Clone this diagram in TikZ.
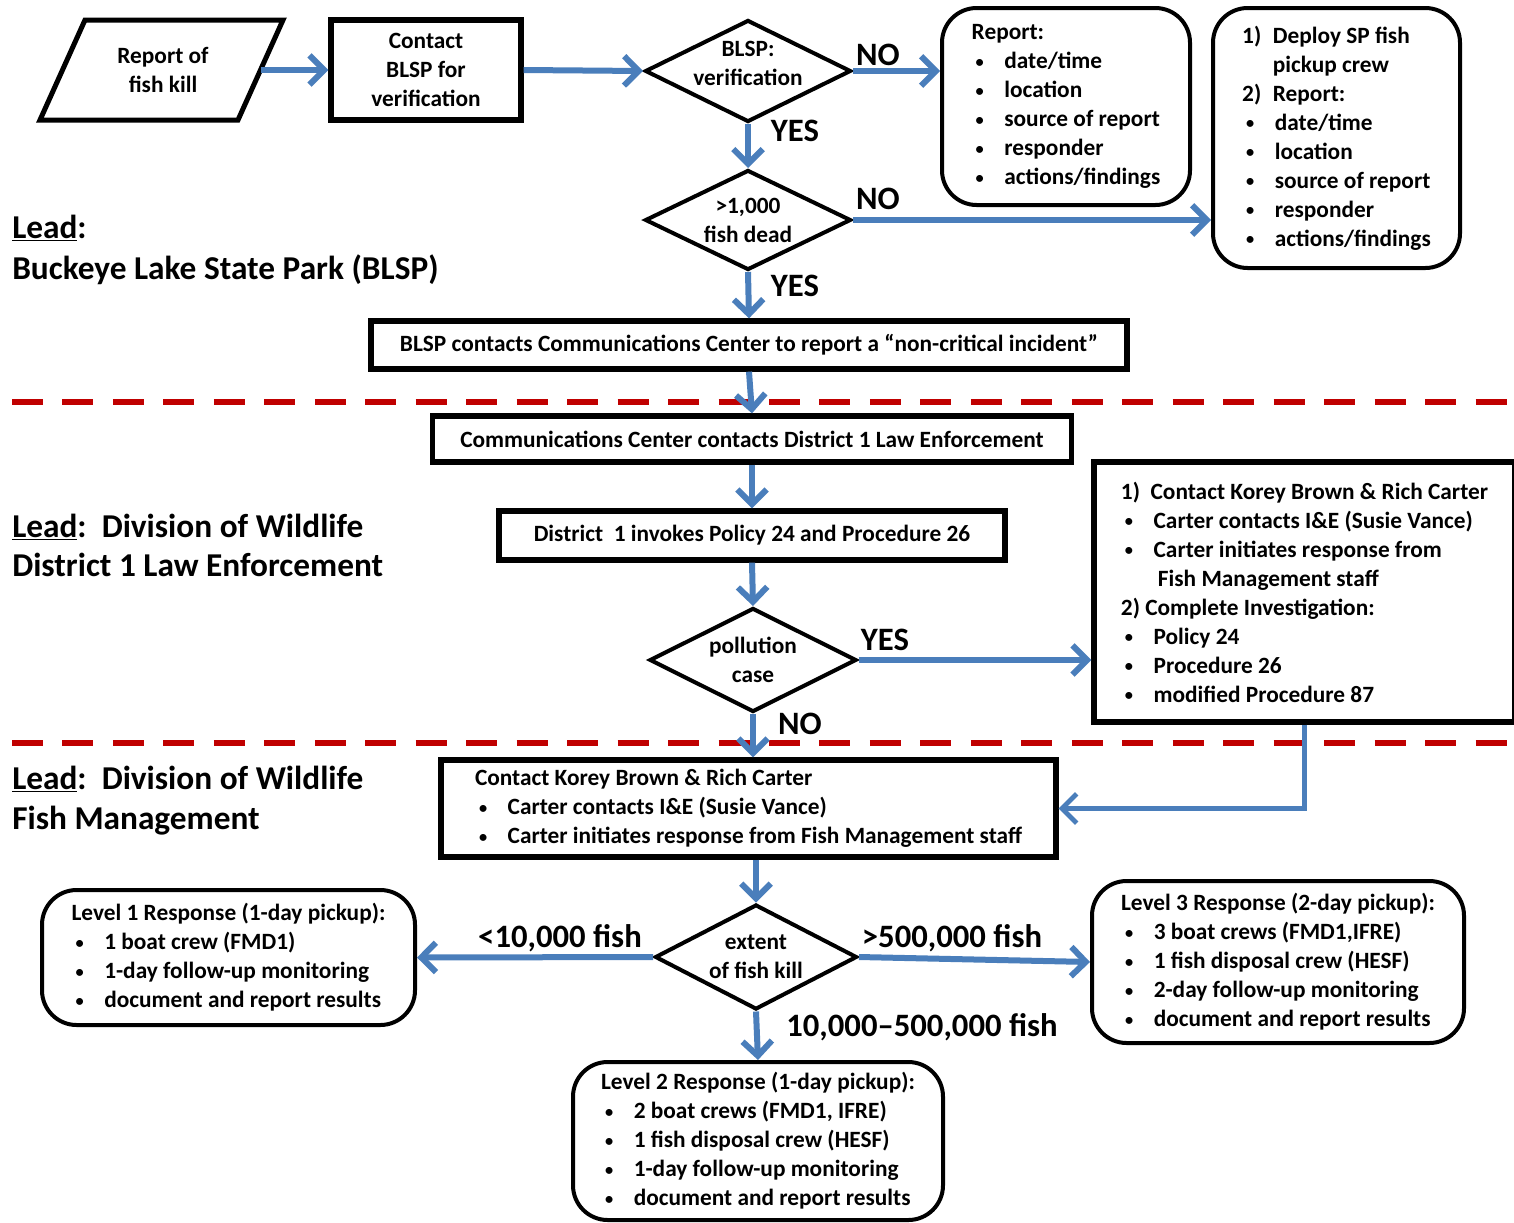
\documentclass[tikz,border=0pt]{standalone}
\usepackage{fontspec}
\setmainfont{Carlito}
\usepackage{tikz}
\usetikzlibrary{arrows.meta,shapes.geometric,positioning}
\definecolor{flowblue}{RGB}{74,126,187}
\definecolor{laneRed}{RGB}{192,0,0}
\newcommand{\bitem}[1]{\hspace*{3pt}\makebox[21.5pt][l]{\raisebox{1pt}{\scalebox{0.7}{\textbullet}}}#1}

\begin{document}
\begin{tikzpicture}[x=0.75pt,y=-0.75pt,
		font=\bfseries\fontsize{17.5}{21.75}\selectfont,
		box/.style={draw,line width=4pt,align=center,inner sep=0pt},
		rbox/.style={draw,line width=3pt,rounded corners=26pt,align=left,inner sep=0pt},
		diam/.style={draw,diamond,line width=3pt,inner sep=0pt,
			label={[align=center]center:{#1}}},
		flow/.style={draw=flowblue,line width=4.5pt,
			-{Straight Barb[length=11pt,width=22pt]}},
		lane/.style={draw=laneRed,line width=5pt,dash pattern=on 23.25pt off 14.6pt},
		yn/.style={font=\bfseries\fontsize{24.5}{30}\selectfont,inner sep=0pt},
		lead/.style={font=\bfseries\fontsize{25}{30}\selectfont,anchor=base west,inner sep=0pt}]
	\clip (0,0) rectangle (1514,1222);
	\fill[white] (0,0) rectangle (1514,1222);
	
	% lanes
	\draw[lane] (12,402) -- (1514,402);
	\draw[lane] (12,743) -- (1514,743);
	
	\node[lead] (lead1) at (12,238) {\underline{Lead}:};
	\node[lead] (blsp) at (12,279) {Buckeye Lake State Park (BLSP)};
	\node[lead] (lead2) at (12,537) {\underline{Lead}:\ \ Division of Wildlife};
	\node[lead] (dle) at (12,576) {District 1 Law Enforcement};
	\node[lead] (lead3) at (12,789) {\underline{Lead}:\ \ Division of Wildlife};
	\node[lead] (fm) at (12,829) {Fish Management};
	
	% BLSP part
	\draw[line width=3.75pt] (85,20) -- (283,20) -- (238,120) -- (40,120) -- cycle;
	\node[align=center] (rep) at (163,70) {Report of\\fish kill};
	\coordinate (repR) at (261,70);
	\node[box,minimum width=142.5pt,minimum height=75pt] (cbl) at (426,70) {Contact\\BLSP for\\verification};
	\node[diam={},minimum width=154.5pt,minimum height=76.5pt,
		label={[align=center,yshift=6pt]center:{BLSP:\\verification}}] (vrf) at (748,71) {};
	\node[rbox,minimum width=186pt,minimum height=147.75pt] (rpt1) at (1066,106.5)
		{Report:\\\bitem{date/time}\\\bitem{location}\\\bitem{source of report}\\\bitem{responder}\\\bitem{actions/findings}};
	\node[diam={>1,000\\fish dead},minimum width=154.5pt,minimum height=75pt] (dead) at (748,220) {};
	\node[rbox,minimum width=185.25pt,minimum height=195pt] (rpt2) at (1336.5,138)
		{\makebox[23pt][l]{1)}Deploy SP fish\\\hspace*{23pt}pickup crew\\\makebox[23pt][l]{2)}Report:\\\bitem{date/time}\\\bitem{location}\\\bitem{source of report}\\\bitem{responder}\\\bitem{actions/findings}};
	\node[box,minimum width=567pt,minimum height=36pt] (bcc) at (749,345) {BLSP contacts Communications Center to report a ``non-critical incident''};
	
	% law enforcement
	\node[box,minimum width=479.25pt,minimum height=34.5pt] (ccd) at (752,439) {Communications Center contacts District 1 Law Enforcement};
	\node[box,minimum width=379.5pt,minimum height=36.75pt] (dis) at (752,535.5) {District\ \ 1 invokes Policy 24 and Procedure 26};
	\node[diam={pollution\\case},minimum width=155.25pt,minimum height=78pt] (pol) at (753,660) {};
	\node[box,align=left,minimum width=315.75pt,minimum height=195pt] (inv) at (1304.5,592)
		{1)\ \ Contact Korey Brown \& Rich Carter\\\bitem{Carter contacts I\&E (Susie Vance)}\\\bitem{Carter initiates response from}\\\hspace*{27.75pt}Fish Management staff\\2) Complete Investigation:\\\bitem{Policy 24}\\\bitem{Procedure 26}\\\bitem{modified Procedure 87}};
	
	% fish management
	\node[box,align=left,minimum width=461.25pt,minimum height=72.75pt] (ckb) at (748.5,808.5)
		{Contact Korey Brown \& Rich Carter\\\bitem{Carter contacts I\&E (Susie Vance)}\\\bitem{Carter initiates response from Fish Management staff}};
	\node[diam={extent\\of fish kill},minimum width=151.5pt,minimum height=78.75pt] (ext) at (756,957) {};
	\node[rbox,minimum width=279.75pt,minimum height=101.25pt] (lv1) at (228.5,957.5)
		{Level 1 Response (1-day pickup):\\\bitem{1 boat crew (FMD1)}\\\bitem{1-day follow-up monitoring}\\\bitem{document and report results}};
	\node[rbox,minimum width=279pt,minimum height=121.5pt] (lv3) at (1278,962)
		{Level 3 Response (2-day pickup):\\\bitem{3 boat crews (FMD1,IFRE)}\\\bitem{1 fish disposal crew (HESF)}\\\bitem{2-day follow-up monitoring}\\\bitem{document and report results}};
	\node[rbox,minimum width=277.5pt,minimum height=118.5pt] (lv2) at (758,1141)
		{Level 2 Response (1-day pickup):\\\bitem{2 boat crews (FMD1, IFRE)}\\\bitem{1 fish disposal crew (HESF)}\\\bitem{1-day follow-up monitoring}\\\bitem{document and report results}};
	
	% connectors
	\draw[flow] (repR) -- (cbl.west);
	\draw[flow] (cbl.east) -- (vrf.west);
	\draw[flow] (vrf.east) -- (vrf.east -| rpt1.west);
	\draw[flow] (vrf.south) -- (dead.north);
	\draw[flow] (dead.east) -- (dead.east -| rpt2.west);
	\draw[flow] (dead.south) -- (bcc.north);
	\draw[flow] (bcc.south) -- (ccd.north);
	\draw[flow] (ccd.south) -- (dis.north);
	\draw[flow] (dis.south) -- (pol.north);
	\draw[flow] (pol.east) -- (pol.east -| inv.west);
	\draw[flow] (pol.south) -- (pol.south |- ckb.north);
	\draw[flow,line width=3.5pt] (inv.south) |- (ckb.east);
	\draw[flow] (ext.north |- ckb.south) -- (ext.north);
	\draw[flow] (ext.west) -- (lv1.east);
	\draw[flow] (ext.east) -- (lv3.west);
	\draw[flow] (ext.south) -- (lv2.north);
	
	\node[yn] (no1) at (878,55) {NO};
	\node[yn] (yes1) at (795,131) {YES};
	\node[yn] (no2) at (878,199) {NO};
	\node[yn] (yes2) at (795,286) {YES};
	\node[yn] (yes3) at (885,640) {YES};
	\node[yn] (no3) at (800,724) {NO};
	\node[yn] (few) at (560,938) {<10,000 fish};
	\node[yn] (many) at (952,938) {>500,000 fish};
	\node[yn] (mid) at (922,1027) {10,000--500,000 fish};
\end{tikzpicture}
\end{document}
